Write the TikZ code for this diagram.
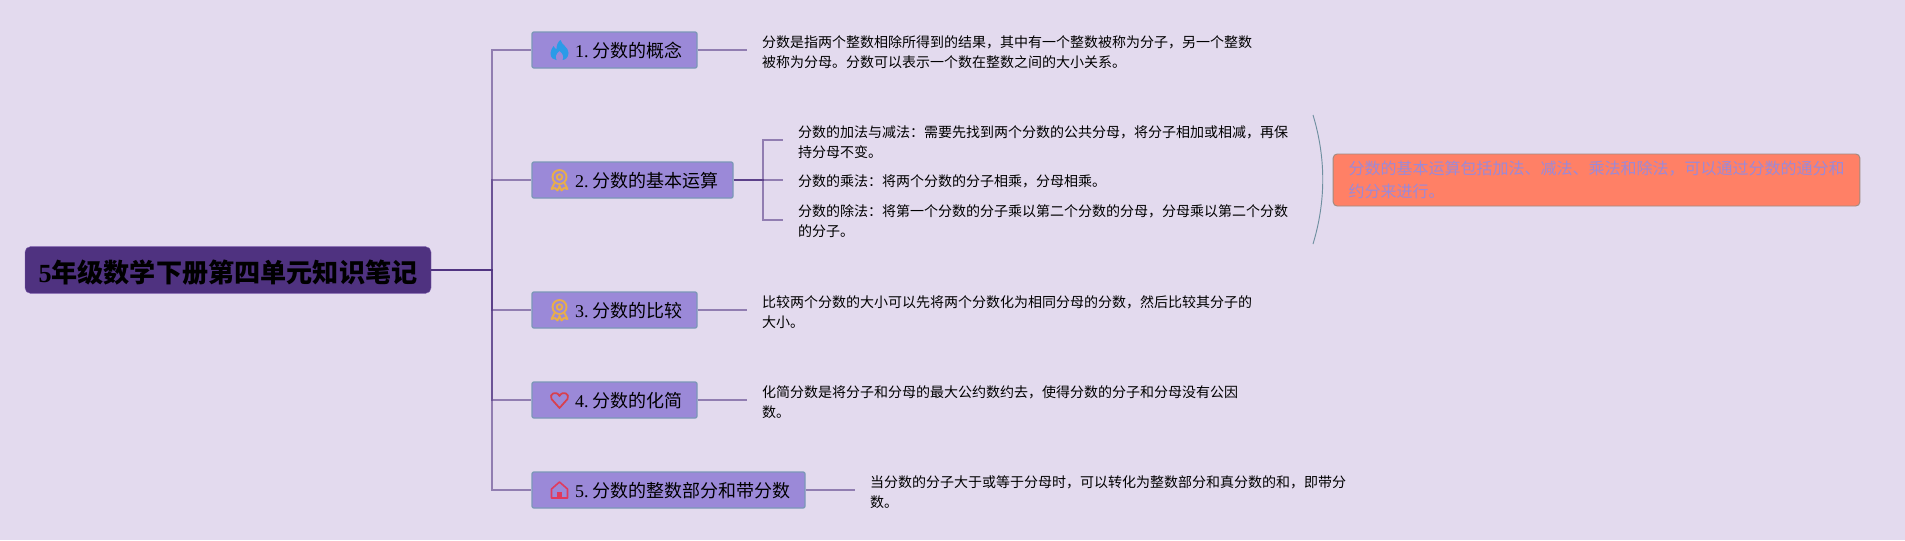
\documentclass[tikz,border=0pt]{standalone}
\usepackage{fontspec}
\setmainfont{Liberation Serif}
\newfontfamily\cjk{Noto Sans CJK SC}
\usetikzlibrary{positioning,calc}
\definecolor{mapBack}{HTML}{E3DAEE}
\definecolor{mapRoot}{HTML}{4F3280}
\definecolor{mapRootEdge}{HTML}{7F60AE}
\definecolor{mapTopic}{HTML}{9B89D8}
\definecolor{mapTopicEdge}{HTML}{7C97B8}
\definecolor{mapLine}{HTML}{4F3280}
\definecolor{mapNote}{HTML}{FF8066}
\definecolor{mapNoteEdge}{HTML}{A08A80}
\definecolor{mapCurve}{HTML}{6F8FA0}
\definecolor{iconBlue}{HTML}{2A9BE8}
\definecolor{iconGold}{HTML}{E8AE4A}
\definecolor{iconRed}{HTML}{D8404E}
\definecolor{iconRose}{HTML}{E03A5E}
\newcommand{\iconflame}[1]{
  \fill[iconBlue,shift={(#1)}] (1,-10) .. controls (2,-5) and (9,-3) .. (9,3)
    .. controls (9,8) and (5,10) .. (3,10) .. controls (5,7) and (3,3) .. (0,1)
    .. controls (-3,3) and (-5,7) .. (-3,10) .. controls (-6,10) and (-9,8) .. (-9,3)
    .. controls (-9,0) and (-7,-2) .. (-6,-4) .. controls (-5,-2) and (-4,-1) .. (-3,-1)
    .. controls (-3,-4) and (-2,-8) .. (1,-10) -- cycle;}
\newcommand{\iconmedal}[1]{
  \begin{scope}[iconGold,line width=1.4pt,shift={(#1)}]
    \draw (0,-3) circle (7);
    \draw (0,-3) circle (2.8);
    \draw[line join=round] (-5,3) -- (-8,9) -- (-4.5,8) -- (-2,10.5) -- (0,6) -- (2,10.5) -- (4.5,8) -- (8,9) -- (5,3);
  \end{scope}}
\newcommand{\iconheart}[1]{
  \draw[iconRed,line width=1.3pt,line join=round,shift={(#1)}] (0,8) -- (-8,-1)
    .. controls (-11,-6) and (-3,-10) .. (0,-4)
    .. controls (3,-10) and (11,-6) .. (8,-1) -- cycle;}
\newcommand{\iconhouse}[1]{
  \begin{scope}[iconRose,shift={(#1)}]
    \draw[line width=1.2pt,line join=round] (-8,8) -- (-8,-1) -- (0,-8) -- (8,-1) -- (8,8) -- cycle;
    \fill (-2.5,8) rectangle (2.5,2);
  \end{scope}}

\begin{document}
\begin{tikzpicture}[x=0.75pt,y=-0.75pt,
    rootbox/.style={draw=mapRootEdge,fill=mapRoot,line width=0.3pt,rounded corners=4pt,
                    minimum width=304.5pt,minimum height=35pt,inner sep=0pt,
                    text height=20pt,text depth=0.8pt,
                    font=\fontsize{19.6}{22}\selectfont\bfseries},
    topicbox/.style={draw=mapTopicEdge,fill=mapTopic,line width=1pt,rounded corners=1.5pt,
                     minimum height=27pt,inner sep=0pt,
                     text height=12pt,text depth=0.4pt,
                     font=\fontsize{13.5}{16}\selectfont},
    leaf/.style={anchor=west,align=left,inner ysep=0pt,inner xsep=11.2pt,
                 font=\fontsize{10.5}{15.4}\selectfont\cjk},
    notebox/.style={draw=mapNoteEdge,fill=mapNote,line width=0.7pt,rounded corners=3pt,
                    minimum width=395pt,minimum height=39pt,align=left,inner xsep=11.4pt,
                    inner ysep=0pt,text width=372pt,text=mapTopic,
                    font=\fontsize{12}{17}\selectfont\cjk},
    bra/.style={mapLine,line width=1.3pt,opacity=0.55}]

  \fill[mapBack] (0,0) rectangle (1905,540);

  \node[rootbox] (root) at (228,270) {5{\cjk\bfseries 年级数学下册第四单元知识笔记}};
  \coordinate (bus) at (492,270);

  \node[topicbox,minimum width=123.75pt] (t1) at (614.5,50) {\hspace*{21.5pt}1.\hspace{2.9pt}{\cjk 分数的概念}};
  \node[topicbox,minimum width=150.75pt] (t2) at (632.5,180) {\hspace*{21.5pt}2.\hspace{2.9pt}{\cjk 分数的基本运算}};
  \node[topicbox,minimum width=123.75pt] (t3) at (614.5,310) {\hspace*{21.5pt}3.\hspace{2.9pt}{\cjk 分数的比较}};
  \node[topicbox,minimum width=123.75pt] (t4) at (614.5,400) {\hspace*{21.5pt}4.\hspace{2.9pt}{\cjk 分数的化简}};
  \node[topicbox,minimum width=204.75pt] (t5) at (668.5,490) {\hspace*{21.5pt}5.\hspace{2.9pt}{\cjk 分数的整数部分和带分数}};

  \iconflame{559.5,50}
  \iconmedal{559.5,180}
  \iconmedal{559.5,310}
  \iconheart{559.5,400}
  \iconhouse{559.5,490}

  \node[leaf] (l1) at (747,52) {分数是指两个整数相除所得到的结果，其中有一个整数被称为分子，另一个整数\\被称为分母。分数可以表示一个数在整数之间的大小关系。};
  \coordinate (sub) at (763,180);
  \node[leaf] (l2a) at (783,142) {分数的加法与减法：需要先找到两个分数的公共分母，将分子相加或相减，再保\\持分母不变。};
  \node[leaf] (l2b) at (783,181) {分数的乘法：将两个分数的分子相乘，分母相乘。};
  \node[leaf] (l2c) at (783,221) {分数的除法：将第一个分数的分子乘以第二个分数的分母，分母乘以第二个分数\\的分子。};
  \node[leaf] (l3) at (747,312) {比较两个分数的大小可以先将两个分数化为相同分母的分数，然后比较其分子的\\大小。};
  \node[leaf] (l4) at (747,402) {化简分数是将分子和分母的最大公约数约去，使得分数的分子和分母没有公因\\数。};
  \node[leaf] (l5) at (855,492) {当分数的分子大于或等于分母时，可以转化为整数部分和真分数的和，即带分\\数。};

  \node[notebox] (note) at (1596.5,180) {分数的基本运算包括加法、减法、乘法和除法，可以通过分数的通分和\\约分来进行。};
  \coordinate (curvetop) at (1313,115);
  \coordinate (curvebot) at (1313,244);

  \draw[bra] (root.east) -- (bus) |- (t1.west);
  \draw[bra] (root.east) -- (bus) |- (t2.west);
  \draw[bra] (root.east) -- (bus) |- (t3.west);
  \draw[bra] (root.east) -- (bus) |- (t4.west);
  \draw[bra] (root.east) -- (bus) |- (t5.west);

  \draw[bra] (t1.east) -- (t1.east -| l1.west);
  \draw[bra] (t2.east) -- (sub) |- (l2a.west |- 0,140);
  \draw[bra] (t2.east) -- (sub) -- (sub -| l2b.west);
  \draw[bra] (t2.east) -- (sub) |- (l2c.west |- 0,220);
  \draw[bra] (t3.east) -- (t3.east -| l3.west);
  \draw[bra] (t4.east) -- (t4.east -| l4.west);
  \draw[bra] (t5.east) -- (t5.east -| l5.west);

  \draw[mapCurve,line width=0.7pt] (curvetop) .. controls (1326,158) and (1326,201) .. (curvebot);
\end{tikzpicture}
\end{document}
